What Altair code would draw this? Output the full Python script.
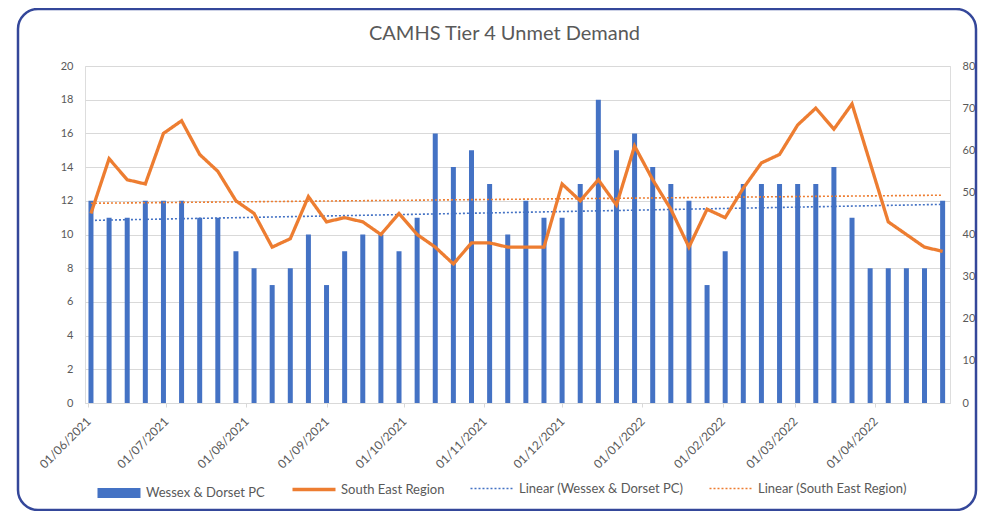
import altair as alt
import pandas as pd

# weekly dates (Wednesdays) from 02/06/2021 to 27/04/2022
dates = [d.strftime("%Y-%m-%d") for d in pd.date_range("2021-06-02", periods=48, freq="7D")]

wessex = [12, 11, 11, 12, 12, 12, 11, 11, 9, 8, 7, 8, 10, 7, 9, 10,
          10, 9, 11, 16, 14, 15, 13, 10, 12, 11, 11, 13, 18, 15, 16, 14,
          13, 12, 7, 9, 13, 13, 13, 13, 13, 14, 11, 8, 8, 8, 8, 12]

south_east = [45, 58, 53, 52, 64, 67, 59, 55, 48, 45, 37, 39, 49, 43, 44, 43,
              40, 45, 40, 37, 33, 38, 38, 37, 37, 37, 52, 48, 53, 47, 61, 53,
              46, 37, 46, 44, 51, 57, 59, 66, 70, 65, 71, 57, 43, 40, 37, 36]

series_names = ["Wessex & Dorset PC", "South East Region",
                "Linear (Wessex & Dorset PC)", "Linear (South East Region)"]
series_colors = ["#4472C4", "#ED7D31", "#4472C4", "#ED7D31"]
series_widths = [10, 3.3, 1.6, 1.6]
series_dashes = [[1, 0], [1, 0], [2, 2], [2, 2]]

month_ticks = [(2021, 6), (2021, 7), (2021, 8), (2021, 9), (2021, 10), (2021, 11),
               (2021, 12), (2022, 1), (2022, 2), (2022, 3), (2022, 4)]

df = pd.DataFrame({"date": dates, "wessex": wessex, "se": south_east})

FONT = "Lato"
GRAY = "#595959"

color_scale = alt.Scale(domain=series_names, range=series_colors)
width_scale = alt.Scale(type="ordinal", domain=series_names, range=series_widths)
dash_scale = alt.Scale(domain=series_names, range=series_dashes)
legend = alt.Legend(
    title=None, orient="none", legendX=7, legendY=400, direction="horizontal",
    columns=4, symbolType="stroke", symbolSize=1850, columnPadding=20,
    gridAlign="none", labelLimit=300,
    labelFont=FONT, labelFontSize=13, labelColor=GRAY, labelOffset=0,
)

x_scale = alt.Scale(type="utc",
                    domain=[alt.DateTime(year=2021, month=6, date=1, hours=15, utc=True),
                            alt.DateTime(year=2022, month=4, date=27, hours=22, utc=True)])
x_axis = alt.Axis(
    title=None, values=[alt.DateTime(year=y, month=m, date=1, utc=True) for y, m in month_ticks],
    format="%d/%m/%Y", labelAngle=-45, labelAlign="right", labelBaseline="middle",
    labelFont=FONT, labelFontSize=12, labelColor=GRAY, labelPadding=12,
    domainColor="#D9D9D9", tickColor="#D9D9D9", tickSize=4, grid=False, labelOverlap=False,
)

left_axis = alt.Axis(title=None, values=list(range(0, 21, 2)), grid=True, gridColor="#D9D9D9",
                     domain=False, ticks=False, labelFont=FONT, labelFontSize=11,
                     labelColor=GRAY, labelPadding=12, labelOverlap=False)
right_axis = alt.Axis(title=None, orient="right", values=list(range(0, 81, 10)), grid=False,
                      domain=False, ticks=False, labelFont=FONT, labelFontSize=11,
                      labelColor=GRAY, labelPadding=12, labelOverlap=False)

x_enc = alt.X("date:T", scale=x_scale, axis=x_axis)
yl_scale = alt.Scale(domain=[0, 20])
yr_scale = alt.Scale(domain=[0, 80])


def series_enc():
    return dict(
        color=alt.Color("series:N", scale=color_scale, legend=legend),
        strokeWidth=alt.StrokeWidth("series:N", scale=width_scale, legend=legend),
        strokeDash=alt.StrokeDash("series:N", scale=dash_scale, legend=legend),
    )


base = alt.Chart(df)

bars = base.mark_bar(width=5, color="#4472C4").encode(
    x=x_enc,
    y=alt.Y("wessex:Q", scale=yl_scale, axis=left_axis),
)
trend_w = base.mark_line().transform_regression(
    "date", "wessex").transform_calculate(series="'Linear (Wessex & Dorset PC)'").encode(
    x=x_enc,
    y=alt.Y("wessex:Q", scale=yl_scale, axis=left_axis),
    **series_enc(),
)
left = alt.layer(bars, trend_w)

line = base.mark_line().transform_calculate(series="'South East Region'").encode(
    x=x_enc,
    y=alt.Y("se:Q", scale=yr_scale, axis=right_axis),
    **series_enc(),
)
trend_s = base.mark_line().transform_regression(
    "date", "se").transform_calculate(series="'Linear (South East Region)'").encode(
    x=x_enc,
    y=alt.Y("se:Q", scale=yr_scale, axis=right_axis),
    **series_enc(),
)
right = alt.layer(trend_s, line)

border = alt.Chart(pd.DataFrame({"a": [0]})).mark_rect(
    fill="transparent", stroke="#34479A", strokeWidth=2.5, cornerRadius=20).encode(
    x=alt.value(-67), x2=alt.value(891), y=alt.value(-57), y2=alt.value(444))

chart = alt.layer(left, right, border).resolve_scale(y="independent").properties(
    width=865, height=337,
    autosize=alt.AutoSizeParams(type="none"),
    padding={"left": 77, "top": 58, "right": 28, "bottom": 108},
    title=alt.TitleParams("CAMHS Tier 4 Unmet Demand", font=FONT, fontSize=20,
                          fontWeight="normal", color=GRAY, anchor="middle", dx=-13,
                          offset=0, dy=36),
).configure_view(stroke=None).configure(background="white")

chart.save("out.html", embed_options={"renderer": "svg", "actions": False})
